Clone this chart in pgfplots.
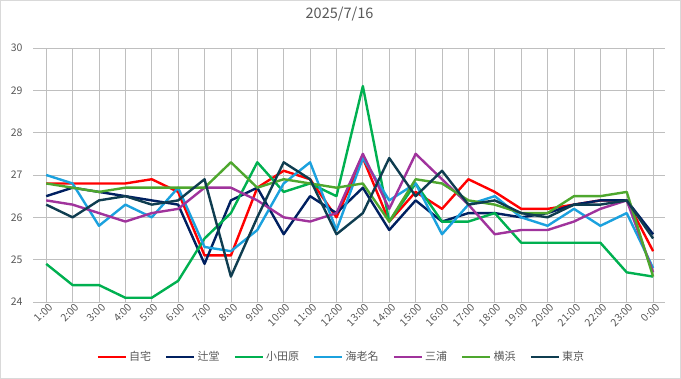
\documentclass[border=0pt]{standalone}
\usepackage{pgfplots}
\pgfplotsset{compat=1.18}
\usepackage{pgfplotstable}
\usepackage{fontspec}
\setmainfont{Noto Sans CJK JP}
\definecolor{cJitaku}{HTML}{FF0000}
\definecolor{cTsujido}{HTML}{002060}
\definecolor{cOdawara}{HTML}{00B050}
\definecolor{cEbina}{HTML}{1BA1DE}
\definecolor{cMiura}{HTML}{A0339C}
\definecolor{cYokohama}{HTML}{4EA72E}
\definecolor{cTokyo}{HTML}{0F3D50}
\definecolor{txt}{HTML}{595959}
\definecolor{grid}{HTML}{D9D9D9}
\pgfplotstableread{
x jitaku tsujido odawara ebina miura yokohama tokyo
0  26.8 26.5 24.9 27.0 26.4 26.8 26.3
1  26.8 26.7 24.4 26.8 26.3 26.7 26.0
2  26.8 26.6 24.4 25.8 26.1 26.6 26.4
3  26.8 26.5 24.1 26.3 25.9 26.7 26.5
4  26.9 26.4 24.1 26.0 26.1 26.7 26.3
5  26.6 26.3 24.5 26.7 26.2 26.7 26.4
6  25.1 24.9 25.5 25.3 26.7 26.7 26.9
7  25.1 26.4 26.1 25.2 26.7 27.3 24.6
8  26.7 26.7 27.3 25.7 26.4 26.7 26.0
9  27.1 25.6 26.6 26.8 26.0 26.9 27.3
10 26.9 26.5 26.8 27.3 25.9 26.8 26.9
11 26.0 26.1 26.5 25.7 26.1 26.7 25.6
12 27.4 26.7 29.1 27.4 27.5 26.8 26.1
13 25.9 25.7 25.9 26.4 26.2 25.9 27.4
14 26.6 26.4 26.8 26.8 27.5 26.9 26.5
15 26.2 25.9 25.9 25.6 26.9 26.8 27.1
16 26.9 26.1 25.9 26.3 26.3 26.4 26.3
17 26.6 26.1 26.1 26.5 25.6 26.3 26.4
18 26.2 26.0 25.4 26.0 25.7 26.1 26.1
19 26.2 26.1 25.4 25.8 25.7 26.1 26.0
20 26.3 26.3 25.4 26.2 25.9 26.5 26.3
21 26.4 26.4 25.4 25.8 26.2 26.5 26.3
22 26.4 26.4 24.7 26.1 26.4 26.6 26.4
23 25.2 25.6 24.6 24.8 24.7 24.6 25.5
}\datatable
\begin{document}
\begin{tikzpicture}[x=1pt,y=1pt]
\path[use as bounding box] (0,0) rectangle (681,379);
\draw[grid, line width=0.8pt] (0.4,0.4) rectangle (680.6,378.6);
\begin{axis}[
  at={(33pt,77pt)}, anchor=south west,
  scale only axis, width=632pt, height=254pt,
  xmin=-0.5, xmax=23.45, ymin=24, ymax=30,
  ytick={24,25,...,30},
  xtick={0,...,23},
  xticklabels={1:00,2:00,3:00,4:00,5:00,6:00,7:00,8:00,9:00,10:00,11:00,12:00,13:00,14:00,15:00,16:00,17:00,18:00,19:00,20:00,21:00,22:00,23:00,0:00},
  /pgf/number format/assume math mode=true,
  axis line style={draw=none},
  major tick style={draw=none},
  ymajorgrids, major grid style={grid, line width=0.8pt},
  tick label style={text=txt, font=\fontsize{10.5}{12}\selectfont},
  yticklabel style={xshift=-7pt},
  xticklabel style={rotate=45, anchor=east, yshift=-6pt, xshift=4pt},
  title={2025/7/16},
  title style={at={(0.485,1)}, anchor=center, yshift=28pt, text=txt, font=\fontsize{14.5}{16}\selectfont},
  legend columns=7,
  legend style={at={(0.488,-0.2165)}, anchor=center, draw=none, fill=none,
    font=\fontsize{11}{13}\selectfont, text=txt,
    /tikz/every even column/.append style={column sep=12pt}},
  legend image code/.code={\draw[#1, line width=2.5pt] (0pt,0pt) -- (28pt,0pt);},
  every axis plot/.append style={line width=2.4pt, line join=round, mark=none},
]
\addplot[cJitaku] table[x=x,y=jitaku] {\datatable};
\addlegendentry{自宅}
\addplot[cTsujido] table[x=x,y=tsujido] {\datatable};
\addlegendentry{辻堂}
\addplot[cOdawara] table[x=x,y=odawara] {\datatable};
\addlegendentry{小田原}
\addplot[cEbina] table[x=x,y=ebina] {\datatable};
\addlegendentry{海老名}
\addplot[cMiura] table[x=x,y=miura] {\datatable};
\addlegendentry{三浦}
\addplot[cYokohama] table[x=x,y=yokohama] {\datatable};
\addlegendentry{横浜}
\addplot[cTokyo] table[x=x,y=tokyo] {\datatable};
\addlegendentry{東京}
\end{axis}
\end{tikzpicture}
\end{document}
